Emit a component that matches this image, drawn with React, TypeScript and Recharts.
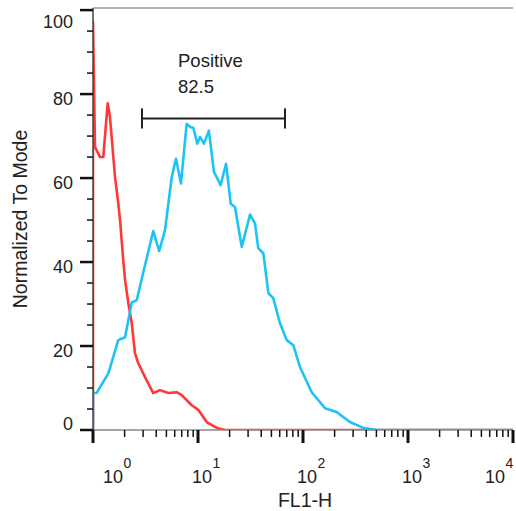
import React from 'react';
import { LineChart, Line, XAxis, YAxis, ReferenceLine } from 'recharts';

const FONT = '"Liberation Sans", Arial, Helvetica, sans-serif';

// FL1-H channel values and normalized counts
const redX = [1, 1, 1.045, 1.166, 1.253, 1.38, 1.45, 1.62, 1.74, 1.81, 1.94, 2.02, 2.17, 2.34, 2.51, 2.7, 3.13, 3.75, 4.35, 5.21, 6.27, 7.0, 8.71, 10.07, 12.1, 15.1, 18.1, 10000];
const redY = [0, 97.2, 67.4, 65, 65, 77.8, 74.6, 60.3, 54, 50, 40.5, 35.7, 30.2, 25.4, 18.3, 15.9, 12.6, 8.8, 9.5, 8.8, 9.0, 8.3, 5.9, 4.8, 1.9, 0.5, 0, 0];

const blueX = [1, 1, 1.08, 1.4, 1.74, 2.02, 2.34, 2.61, 3.01, 3.75, 4.27, 4.85, 5.62, 6.17, 6.88, 7.8, 8.52, 9.02, 9.84, 10.45, 11.4, 12.7, 14.2, 15.3, 16.4, 18.5, 20.5, 22.5, 26.1, 31.3, 34.9, 37.5, 41.9, 46.8, 52.1, 60.4, 70.0, 80.9, 93.6, 121, 162, 209, 280, 375, 504, 10000];
const blueY = [0, 8.8, 8.8, 13.5, 21.4, 22.1, 30.4, 30.9, 37.5, 47.4, 42.6, 47.6, 60.2, 64.6, 58.7, 72.9, 72.1, 72, 68.2, 69.8, 68.2, 71.3, 61.4, 59.9, 58.3, 63.4, 53.9, 53.1, 43.6, 51.3, 49.2, 43.3, 42.1, 32.6, 31.4, 25.4, 21.4, 20.2, 15, 9.0, 5.2, 4.3, 1.9, 0.5, 0, 0];

const xMajorTicks = [1, 10, 100, 1000, 10000];
const xMinorMultipliers = [2, 3, 4, 5, 6, 7, 8, 9];
const yTicks = [0, 5, 10, 15, 20, 25, 30, 35, 40, 45, 50, 55, 60, 65, 70, 75, 80, 85, 90, 95, 100];
const yLabelTicks = [0, 20, 40, 60, 80, 100];

const gateLow = 2.93;
const gateHigh = 67.4;
const gateY = 74.2;
const gateCap = 2.4;
const gateName = 'Positive';
const gateValue = '82.5';

const xTitle = 'FL1-H';
const yTitle = 'Normalized To Mode';

const redData = redX.map((x, i) => ({ x, y: redY[i] }));
const blueData = blueX.map((x, i) => ({ x, y: blueY[i] }));
const xTicks: number[] = [];
xMajorTicks.forEach((m, i) => {
  xTicks.push(m);
  if (i < xMajorTicks.length - 1) xMinorMultipliers.forEach((k) => xTicks.push(m * k));
});

const YTick = (props: any) => {
  const { x, y, payload } = props;
  const v = payload.value;
  const major = yLabelTicks.includes(v);
  const dy = v === 100 ? 18 : v === 0 ? 0 : 11;
  return (
    <g>
      <line x1={x - (major ? 13 : 6)} x2={x} y1={y} y2={y} stroke="#111" strokeWidth={major ? 2.5 : 1.5} />
      {major && (
        <text x={x - 20} y={y + dy} textAnchor="end" fontSize={18} fill="#222" fontFamily={FONT}>
          {v}
        </text>
      )}
    </g>
  );
};

const XTick = (props: any) => {
  const { x, y, payload } = props;
  const v = payload.value;
  const lg = Math.log10(v);
  const exp = Math.round(lg);
  const major = Math.abs(lg - exp) < 1e-9;
  let start = x - 6;
  if (exp === 0) start = x + 10;
  if (exp === 4) start = x - 28;
  return (
    <g>
      <line x1={x} x2={x} y1={y} y2={y + (major ? 13 : 7)} stroke="#111" strokeWidth={major ? 3 : 1.5} />
      {major && (
        <text x={start} y={y + 53} fontSize={18} fill="#222" fontFamily={FONT}>
          <tspan>10</tspan>
          <tspan dx={0.5} dy={-15} fontSize={14}>{exp}</tspan>
        </text>
      )}
    </g>
  );
};

const XTitle = (props: any) => {
  const vb = props.viewBox || { x: 93, y: 430, width: 420, height: 81 };
  return (
    <text x={vb.x + vb.width / 2 + 2} y={vb.y + 77} textAnchor="middle" fontSize={19.5} fill="#222" fontFamily={FONT}>
      {xTitle}
    </text>
  );
};

const YTitle = (props: any) => {
  const vb = props.viewBox || { x: 0, y: 8, width: 93, height: 422 };
  const cx = 27;
  const cy = vb.y + vb.height / 2;
  return (
    <text x={cx} y={cy} transform={`rotate(-90 ${cx} ${cy})`} textAnchor="middle" fontSize={19.5} fill="#222" fontFamily={FONT}>
      {yTitle}
    </text>
  );
};

const GateLabel = (props: any) => {
  const vb = props.viewBox || { x: 142, y: 118 };
  return (
    <g>
      <text x={vb.x + 36} y={vb.y - 51} fontSize={18.5} fill="#222" fontFamily={FONT}>{gateName}</text>
      <text x={vb.x + 36} y={vb.y - 25} fontSize={18.5} fill="#222" fontFamily={FONT}>{gateValue}</text>
    </g>
  );
};

export default function App() {
  return (
    <div style={{ position: 'absolute', left: 0, top: 0, width: 516, height: 511, background: '#fff' }}>
      <LineChart width={516} height={511} margin={{ top: 8, right: 3, bottom: 0, left: 0 }}>
        <XAxis
          dataKey="x"
          type="number"
          scale="log"
          domain={[1, 10000]}
          ticks={xTicks}
          interval={0}
          tickSize={0}
          tickMargin={0}
          tickLine={false}
          tick={<XTick />}
          axisLine={{ stroke: '#888', strokeWidth: 1.5 }}
          height={81}
          allowDataOverflow
          label={<XTitle />}
        />
        <YAxis
          type="number"
          domain={[0, 100.5]}
          ticks={yTicks}
          interval={0}
          tickSize={0}
          tickMargin={0}
          tickLine={false}
          tick={<YTick />}
          axisLine={{ stroke: '#444', strokeWidth: 1.5 }}
          width={93}
          allowDataOverflow
          label={<YTitle />}
        />
        <ReferenceLine y={100.5} stroke="#999" strokeWidth={1.5} />
        <Line data={redData} dataKey="y" type="linear" stroke="#ff3838" strokeWidth={2.6} strokeLinejoin="round" dot={false} isAnimationActive={false} />
        <Line data={blueData} dataKey="y" type="linear" stroke="#1ec3f5" strokeWidth={2.6} strokeLinejoin="round" dot={false} isAnimationActive={false} />
        <ReferenceLine segment={[{ x: gateLow, y: gateY }, { x: gateHigh, y: gateY }]} stroke="#222" strokeWidth={2} label={<GateLabel />} />
        <ReferenceLine segment={[{ x: gateLow, y: gateY - gateCap }, { x: gateLow, y: gateY + gateCap }]} stroke="#222" strokeWidth={2} />
        <ReferenceLine segment={[{ x: gateHigh, y: gateY - gateCap }, { x: gateHigh, y: gateY + gateCap }]} stroke="#222" strokeWidth={2} />
      </LineChart>
    </div>
  );
}
